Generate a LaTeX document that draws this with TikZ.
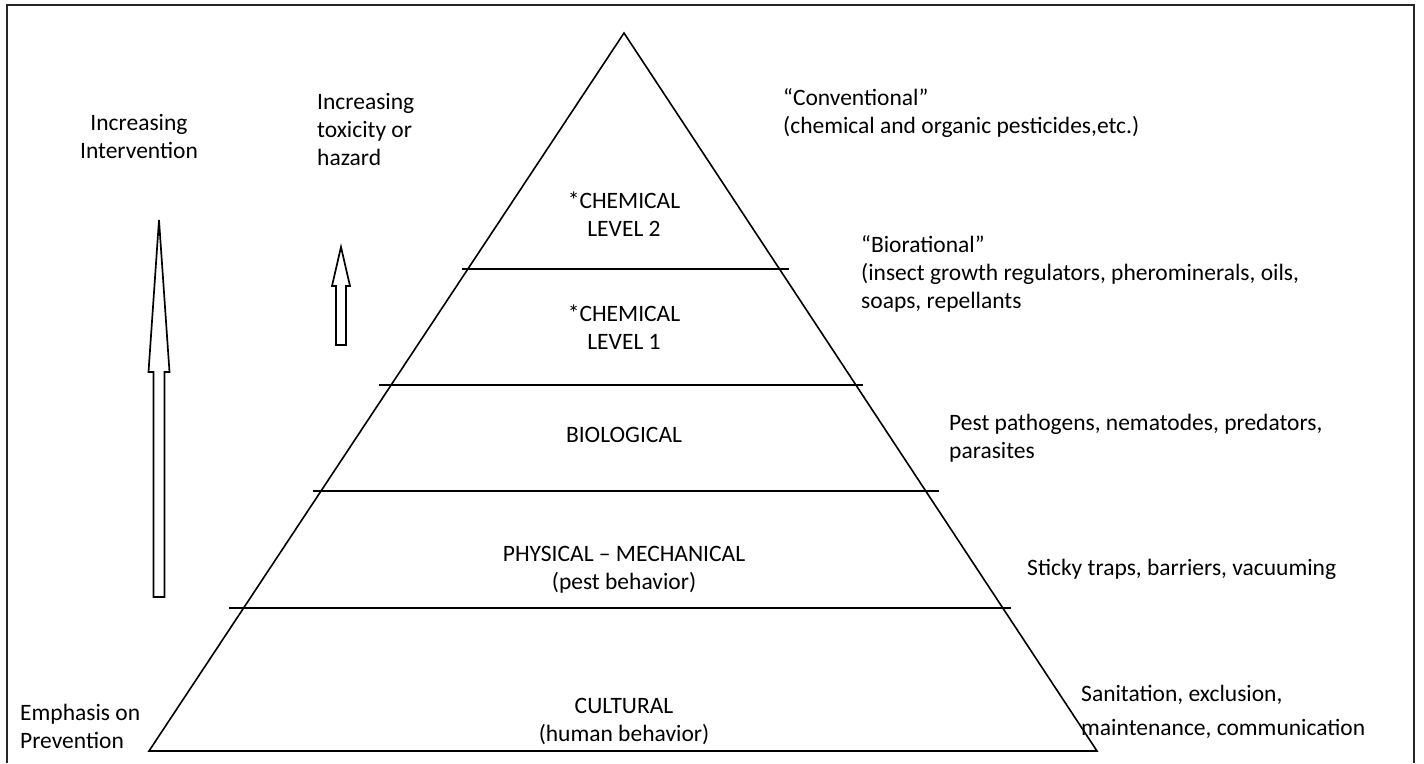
\documentclass[tikz,border=0pt]{standalone}
\usepackage{fontspec}
\setmainfont{Carlito}
\begin{document}
\begin{tikzpicture}[x=1pt,y=-1pt,
  lbl/.style={inner sep=0pt, font=\fontsize{23.5}{28}\selectfont},
  lblc/.style={lbl, align=center},
  lbll/.style={lbl, align=left, anchor=north west},
  edge/.style={line width=1.6pt, line join=miter},
  hollow/.style={line width=1.7pt, fill=white, line join=miter}]
\useasboundingbox (0,0) rectangle (1424,763);
% frame
\draw[line width=2pt, black!85] (7,763) -- (7,5) -- (1414,5) -- (1414,763);
% pyramid
\coordinate (apex) at (624,33);
\coordinate (bl) at (149,751);
\coordinate (br) at (1097,751);
\draw[edge] (apex) -- (bl) -- (br) -- cycle;
\foreach \yy/\xl/\xr in {269/462/789, 385/379/863, 491/313/939, 608/229/1011}{
  \draw[edge] (\xl,\yy) -- (\xr,\yy);
}
% big arrow
\draw[hollow] (159,220) -- (169.5,372) -- (164.5,372) -- (164.5,597) -- (153.5,597) -- (153.5,372) -- (148.5,372) -- cycle;
% small arrow
\draw[hollow] (341,247) -- (350,286) -- (346,286) -- (346,345) -- (336,345) -- (336,286) -- (332,286) -- cycle;
% pyramid labels
\node[lblc] (c2) at (624,214) {*CHEMICAL\\LEVEL 2};
\node[lblc] (c1) at (624,327) {*CHEMICAL\\LEVEL 1};
\node[lblc] (bio) at (624,435) {BIOLOGICAL};
\node[lblc] (phys) at (624,570) {PHYSICAL -- MECHANICAL\\(pest behavior)};
\node[lblc] (cult) at (624,721) {CULTURAL\\(human behavior)};
% left labels
\node[lblc] (inter) at (139,136) {Increasing\\Intervention};
\node[lbll] (tox) at (317,93) {Increasing\\toxicity or\\hazard};
\node[lbll] (prev) at (20,704) {Emphasis on\\Prevention};
% right labels
\node[lbll] (conv) at (783,88) {“Conventional”\\(chemical and organic pesticides,etc.)};
\node[lbll] (biorat) at (861,235) {“Biorational”\\(insect growth regulators, pherominerals, oils,\\soaps, repellants};
\node[lbll] (pest) at (949,414) {Pest pathogens, nematodes, predators,\\parasites};
\node[lbll] (sticky) at (1027,559) {Sticky traps, barriers, vacuuming};
\node[lbll] (sanit) at (1081,685) {Sanitation, exclusion,\\[6pt]maintenance, communication};
\end{tikzpicture}
\end{document}
